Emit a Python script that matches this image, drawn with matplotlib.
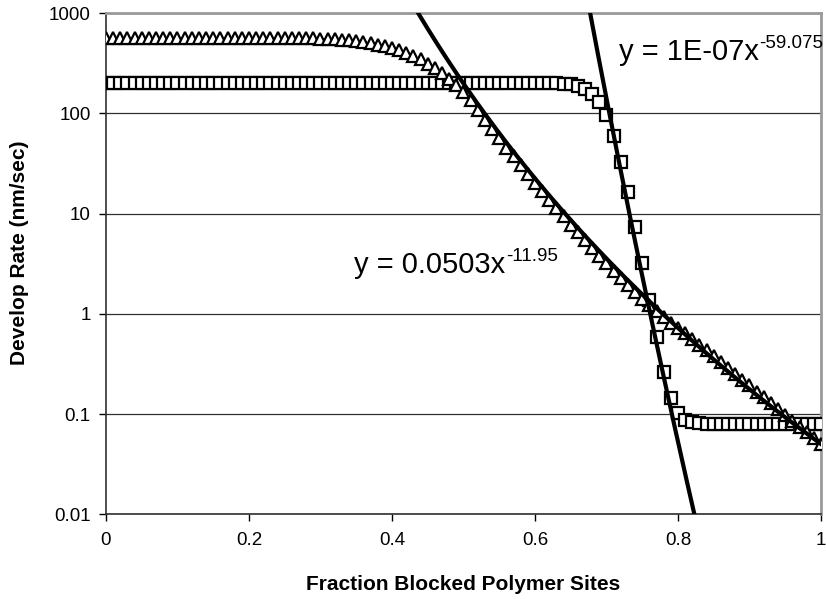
#!/usr/bin/env python
# coding: utf-8

"""
Develop rate versus fraction of blocked polymer sites, two resist curves on a
log axis with their power-law trendlines.
"""

import numpy as np
import matplotlib

matplotlib.use("Agg")
import matplotlib.pyplot as plt
import matplotlib.ticker as mticker

plt.rcParams["font.family"] = ["Liberation Sans", "DejaVu Sans"]

# fraction blocked, 0 to 1 in steps of 0.01
fraction = [i / 100 for i in range(101)]

# develop rate (nm/sec), triangle series
rate_tri = [
    570, 570, 570, 570, 570, 570, 570, 570, 570, 570,
    570, 570, 570, 570, 570, 570, 570, 570, 570, 570,
    570, 570, 570, 570, 570, 570, 569, 567, 565, 563,
    560, 556, 551, 545, 537, 527, 515, 502, 488, 470,
    450, 428, 403, 376, 347, 315, 282, 252, 222, 192,
    165, 135, 108, 87, 70, 56.7, 45.7, 37.4, 30.4, 24.8,
    20.3, 16.7, 13.7, 11.3, 9.4, 7.8, 6.5, 5.43, 4.55, 3.82,
    3.21, 2.71, 2.30, 1.95, 1.67, 1.42, 1.23, 1.06, 0.93, 0.815,
    0.717, 0.64, 0.56, 0.495, 0.432, 0.378, 0.331, 0.289, 0.253, 0.221,
    0.193, 0.168, 0.147, 0.128, 0.112, 0.098, 0.086, 0.075, 0.0656, 0.0577,
    0.0505,
]

# develop rate (nm/sec), square series
rate_sq = [
    200, 200, 200, 200, 200, 200, 200, 200, 200, 200,
    200, 200, 200, 200, 200, 200, 200, 200, 200, 200,
    200, 200, 200, 200, 200, 200, 200, 200, 200, 200,
    200, 200, 200, 200, 200, 200, 200, 200, 200, 200,
    200, 200, 200, 200, 200, 200, 200, 200, 200, 200,
    200, 200, 200, 200, 200, 200, 200, 200, 200, 200,
    200, 200, 200, 200, 199, 197, 190, 175, 157, 130,
    97, 60, 33, 16.3, 7.3, 3.2, 1.38, 0.59, 0.265, 0.145,
    0.102, 0.088, 0.083, 0.081, 0.08, 0.08, 0.08, 0.08, 0.08, 0.08,
    0.08, 0.08, 0.08, 0.08, 0.08, 0.08, 0.08, 0.08, 0.08, 0.08,
    0.08,
]

# power-law fits y = a * x^b, with the label text for each
fit_tri = (0.0503, -11.95)
fit_sq = (1e-07, -59.075)
label_tri = ("y = 0.0503x", "-11.95")
label_sq = ("y = 1E-07x", "-59.075")

xticks = [0, 0.2, 0.4, 0.6, 0.8, 1]
xticklabels = ["0", "0.2", "0.4", "0.6", "0.8", "1"]
yticks = [0.01, 0.1, 1, 10, 100, 1000]
yticklabels = ["0.01", "0.1", "1", "10", "100", "1000"]


def add_equation(ax, x, y, text):
    base, exponent = text
    t = ax.text(x, y, base, fontsize=21, va="baseline", ha="left")
    # exponent sits at the top right corner of the base text
    ax.annotate(exponent, xy=(1, 1), xycoords=t, xytext=(0.5, 2.5),
                textcoords="offset points", fontsize=13.5, va="top", ha="left",
                annotation_clip=False)


def make_figure():
    fig = plt.figure(figsize=(8.26, 5.99), dpi=100)
    ax = fig.add_axes([0.1283, 0.1414, 0.8656, 0.8364])

    ax.plot(fraction, rate_sq, linestyle="none", marker="s", markersize=8,
            markerfacecolor="white", markeredgecolor="black", markeredgewidth=1.6, zorder=3)
    ax.plot(fraction, rate_tri, linestyle="none", marker="^", markersize=8.5,
            markerfacecolor="white", markeredgecolor="black", markeredgewidth=1.6, zorder=4)

    xs = np.linspace(0.01, 1, 3000)
    for a, b in (fit_tri, fit_sq):
        ax.plot(xs, a * xs ** b, color="black", linewidth=3, zorder=5)

    ax.set_yscale("log")
    ax.set_xlim(0, 1)
    ax.set_ylim(0.01, 1000)

    ax.set_xticks(xticks)
    ax.set_xticklabels(xticklabels)
    ax.set_yticks(yticks)
    ax.set_yticklabels(yticklabels)
    ax.yaxis.set_minor_locator(mticker.NullLocator())
    ax.tick_params(axis="both", which="major", direction="out", length=5, width=1,
                   labelsize=13.5, color="black")
    ax.tick_params(axis="x", pad=8)
    ax.tick_params(axis="y", pad=6)

    ax.yaxis.grid(True, color="#303030", linewidth=0.9)
    ax.set_axisbelow(True)

    for side in ("left", "bottom"):
        ax.spines[side].set_color("#303030")
        ax.spines[side].set_linewidth(1.2)
    for side in ("top", "right"):
        ax.spines[side].set_color("#9a9a9a")
        ax.spines[side].set_linewidth(2)

    ax.set_xlabel("Fraction Blocked Polymer Sites", fontsize=15, fontweight="bold")
    ax.set_ylabel("Develop Rate (nm/sec)", fontsize=15, fontweight="bold")
    ax.xaxis.set_label_coords(0.5, -0.122)
    ax.yaxis.set_label_coords(-0.108, 0.523)

    add_equation(ax, 0.347, 2.56, label_tri)
    add_equation(ax, 0.717, 342, label_sq)
    return fig


if __name__ == "__main__":
    fig = make_figure()
    fig.savefig("out.png", dpi=100)
